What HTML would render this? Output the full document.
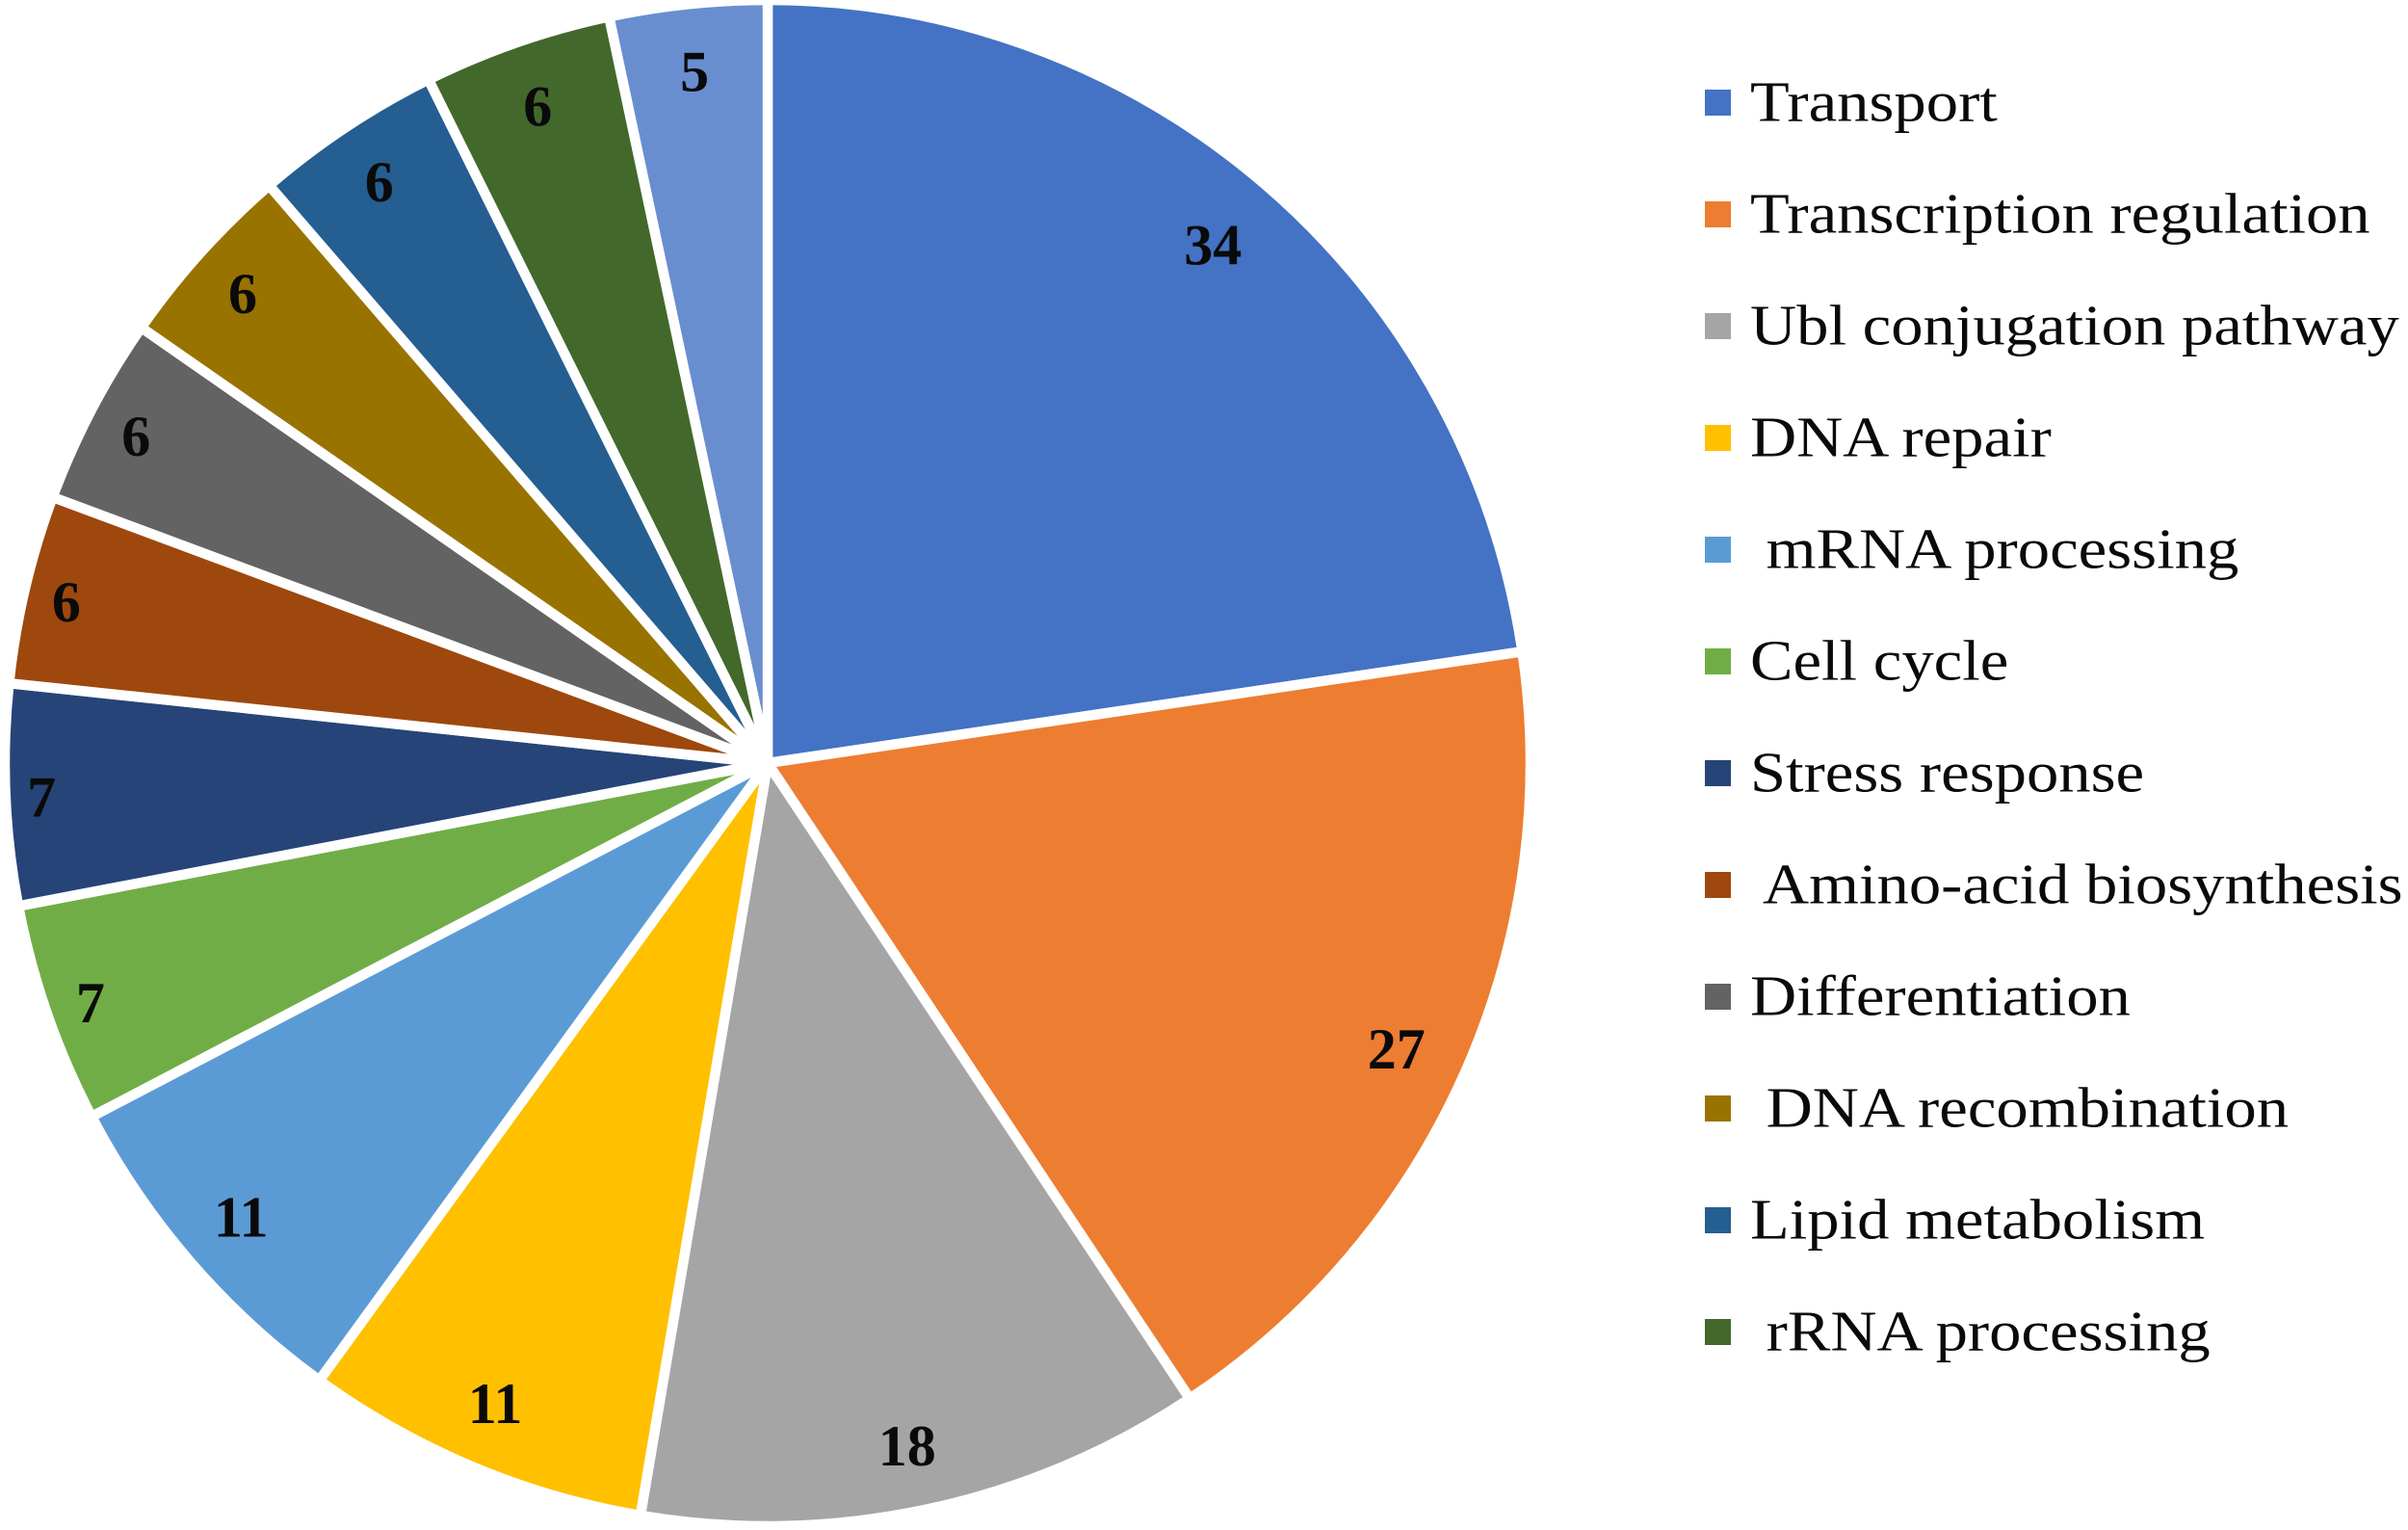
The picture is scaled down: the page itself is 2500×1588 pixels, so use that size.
<!DOCTYPE html>
<html lang="en">
<head>
<meta charset="utf-8">
<title>Functional categories pie chart</title>
<style>
  html, body { margin: 0; padding: 0; background: #fff; }
  body { width: 2500px; height: 1588px; overflow: hidden; }
  svg { display: block; }
  text { font-family: "Liberation Serif", serif; fill: #0a0a0a; }
  .legend-text { font-size: 59px; white-space: pre; }
  .value-text { font-size: 60px; font-weight: bold; text-anchor: middle; }
</style>
</head>
<body>
<svg id="chart" xmlns="http://www.w3.org/2000/svg" width="2500" height="1588" viewBox="0 0 2500 1588">
  <rect width="2500" height="1588" fill="#ffffff"/>
  <g id="slices"></g>
  <g id="values"></g>
  <g id="legend"></g>
</svg>
<script>
const categories = ["Transport", "Transcription regulation", "Ubl conjugation pathway", "DNA repair", " mRNA processing", "Cell cycle", "Stress response", " Amino-acid biosynthesis", "Differentiation", " DNA recombination", "Lipid metabolism", " rRNA processing", ""];
const seriesValues = [34, 27, 18, 11, 11, 7, 7, 6, 6, 6, 6, 6, 5];
const sliceColors = ["#4472C4", "#ED7D31", "#A5A5A5", "#FFC000", "#5B9BD5", "#70AD47", "#264478", "#9E480E", "#636363", "#997300", "#255E91", "#43682B", "#698ED0"];

const NS = "http://www.w3.org/2000/svg";
const cx = 797, cy = 792, radius = 792;
const labelOuter = 762, labelHalfHeight = 36, labelDrop = 4;
const legendX = 1770, legendTop = 106.5, legendStep = 116, swatch = 27, textX = 1817, textStretch = 1.13;
const total = seriesValues.reduce((a, b) => a + b, 0);

function angleOf(cumulative) { return cumulative / total * 2 * Math.PI; }
function px(r, a) { return cx + r * Math.sin(a); }
function py(r, a) { return cy - r * Math.cos(a); }
/* Inside-end label placement: the label box is kept inside the pie edge. */
function labelRadiusFor(text, a) {
  const halfWidth = 24 * text.length - 18;
  return labelOuter - halfWidth * Math.abs(Math.sin(a)) - labelHalfHeight * Math.abs(Math.cos(a));
}

const slicesG = document.getElementById("slices");
const valuesG = document.getElementById("values");
const legendG = document.getElementById("legend");

let running = 0;
seriesValues.forEach((v, i) => {
  const a0 = angleOf(running);
  const a1 = angleOf(running + v);
  running += v;
  const large = (a1 - a0) > Math.PI ? 1 : 0;

  const slice = document.createElementNS(NS, "path");
  slice.setAttribute("d", `M${cx} ${cy}L${px(radius, a0)} ${py(radius, a0)}A${radius} ${radius} 0 ${large} 1 ${px(radius, a1)} ${py(radius, a1)}Z`);
  slice.setAttribute("fill", sliceColors[i]);
  slice.setAttribute("stroke", "#ffffff");
  slice.setAttribute("stroke-width", "10.5");
  slice.setAttribute("stroke-linejoin", "round");
  
  
  slicesG.appendChild(slice);

  const mid = (a0 + a1) / 2;
  const text = String(v);
  const r = labelRadiusFor(text, mid);
  const label = document.createElementNS(NS, "text");
  label.setAttribute("class", "value-text");
  label.setAttribute("x", px(r, mid) - (text.length - 1) * 5);
  label.setAttribute("y", py(r, mid) + labelDrop + 20);
  label.textContent = text;
  
  
  valuesG.appendChild(label);
});

categories.forEach((name, i) => {
  if (!name) return;
  const yc = legendTop + i * legendStep;

  const sw = document.createElementNS(NS, "rect");
  sw.setAttribute("x", legendX);
  sw.setAttribute("y", yc - swatch / 2);
  sw.setAttribute("width", swatch);
  sw.setAttribute("height", swatch);
  sw.setAttribute("fill", sliceColors[i]);
  
  
  legendG.appendChild(sw);

  const t = document.createElementNS(NS, "text");
  t.setAttribute("class", "legend-text");
  t.setAttribute("transform", `translate(${textX} ${yc + 19}) scale(${textStretch} 1)`);
  t.textContent = name;
  
  
  legendG.appendChild(t);
});
</script>
</body>
</html>
